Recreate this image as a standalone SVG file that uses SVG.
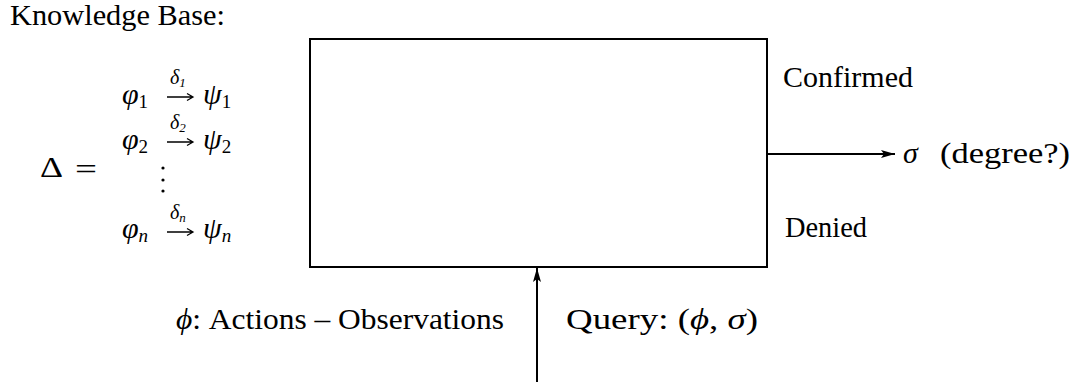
<svg xmlns="http://www.w3.org/2000/svg" width="1085" height="382" viewBox="0 0 1085 382">
<style>
text{font-family:"Liberation Serif","DejaVu Serif","Times New Roman",serif;fill:#000}
.t{font-size:30px}
.m{font-size:30px;font-style:italic}
.s{font-size:19px;font-style:normal}
.si{font-size:19px;font-style:italic}
.d{font-size:20px;font-style:italic}
.ds{font-size:13px}
.ln{stroke:#000;stroke-width:2;fill:none}
.ra{stroke:#000;stroke-width:1.3;fill:none}
</style>
<defs>
<marker id="ah" viewBox="0 0 14 8" refX="14" refY="4" markerWidth="14" markerHeight="8" markerUnits="userSpaceOnUse" orient="auto">
<path d="M0,0 L14,4 L0,8 L3,4 Z" fill="#000"/>
</marker>
</defs>
<g font-family="Liberation Serif, DejaVu Serif, serif">
<g id="kb-title"><text class="t" x="10" y="25" textLength="215" lengthAdjust="spacingAndGlyphs">Knowledge Base:</text></g>
<g id="kb-formula">
<text class="t" x="40" y="177" textLength="23" lengthAdjust="spacingAndGlyphs">Δ</text>
<text class="t" x="75" y="179" textLength="22" lengthAdjust="spacingAndGlyphs">=</text>
<g id="row1">
<text class="m" x="122" y="104">φ<tspan class="s" dy="4">1</tspan></text>
<text class="d" x="170" y="84">δ<tspan class="ds" dy="3">1</tspan></text>
<path class="ra" d="M167,97 H193 M187,93.5 L193,97 L187,100.5"/>
<text class="m" x="203" y="104">ψ<tspan class="s" dy="4">1</tspan></text>
</g>
<g id="row2">
<text class="m" x="122" y="149">φ<tspan class="s" dy="4">2</tspan></text>
<text class="d" x="170" y="129">δ<tspan class="ds" dy="3">2</tspan></text>
<path class="ra" d="M167,142 H193 M187,138.5 L193,142 L187,145.5"/>
<text class="m" x="203" y="149">ψ<tspan class="s" dy="4">2</tspan></text>
</g>
<g id="vdots" fill="#000"><circle cx="163" cy="168" r="1.6"/><circle cx="163" cy="180" r="1.6"/><circle cx="163" cy="191" r="1.6"/></g>
<g id="rown">
<text class="m" x="122" y="238">φ<tspan class="si" dy="4">n</tspan></text>
<text class="d" x="170" y="219">δ<tspan class="ds" dy="3" font-style="italic">n</tspan></text>
<path class="ra" d="M167,232 H193 M187,228.5 L193,232 L187,235.5"/>
<text class="m" x="203" y="238">ψ<tspan class="si" dy="4">n</tspan></text>
</g>
</g>
<g id="box"><rect class="ln" x="310" y="39" width="457" height="228"/></g>
<g id="labels">
<text class="t" x="783" y="87" textLength="130" lengthAdjust="spacingAndGlyphs">Confirmed</text>
<text class="t" x="785" y="237" textLength="82" lengthAdjust="spacingAndGlyphs">Denied</text>
<text class="m" x="903" y="163">σ</text>
<text class="t" x="940" y="163" textLength="130" lengthAdjust="spacingAndGlyphs">(degree?)</text>
<text class="t" x="176" y="329" textLength="328" lengthAdjust="spacingAndGlyphs"><tspan font-style="italic">ϕ</tspan>: Actions – Observations</text>
<text class="t" x="566" y="329" textLength="192" lengthAdjust="spacingAndGlyphs">Query: (<tspan font-style="italic">ϕ</tspan>, <tspan font-style="italic">σ</tspan>)</text>
</g>
<g id="connectors">
<line class="ln" x1="767" y1="154" x2="895" y2="154" marker-end="url(#ah)"/>
<line class="ln" x1="537" y1="382" x2="537" y2="268" marker-end="url(#ah)"/>
</g>
</g>
</svg>
